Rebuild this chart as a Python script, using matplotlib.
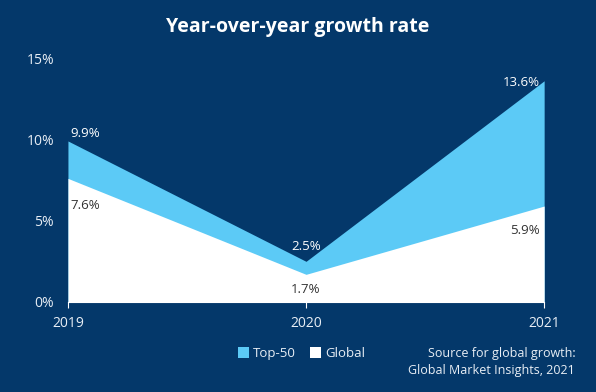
import matplotlib
matplotlib.use("Agg")
import matplotlib.pyplot as plt
from matplotlib.patches import Patch

plt.rcParams['font.family'] = ['Open Sans', 'DejaVu Sans']

years = ["2019", "2020", "2021"]
top50 = [9.9, 2.5, 13.6]
global_growth = [7.6, 1.7, 5.9]
yticks = [0, 5, 10, 15]
ytick_labels = ["0%", "5%", "10%", "15%"]

BG = "#04386a"
BLUE = "#5ccaf6"
WHITE = "#ffffff"
TXT = "#e8eef5"
DARK = "#333333"

fig = plt.figure(figsize=(5.96, 3.92), dpi=100, facecolor=BG)
ax = fig.add_axes([0.114, 0.2296, 0.799, 0.6224])
ax.set_facecolor(BG)

x = list(range(len(years)))
ax.fill_between(x, 0, top50, color=BLUE, linewidth=0)
ax.fill_between(x, 0, global_growth, color=WHITE, linewidth=0)

ax.set_xlim(0, 2)
ax.set_ylim(0, 15)
ax.set_xticks(x)
ax.set_xticklabels(years)
ax.set_yticks(yticks)
ax.set_yticklabels(ytick_labels)
for s in ["top", "right", "left"]:
    ax.spines[s].set_visible(False)
ax.spines["bottom"].set_color(WHITE)
ax.spines["bottom"].set_linewidth(0.8)
ax.tick_params(axis="y", length=0, pad=10, labelsize=10, labelcolor=TXT)
ax.tick_params(axis="x", length=4, color=WHITE, pad=6, labelsize=10, labelcolor=TXT)

# data labels
ax.annotate(f"{top50[0]}%", (0, top50[0]), xytext=(2, 1), textcoords="offset points",
            ha="left", va="bottom", color=WHITE, fontsize=9.5)
ax.annotate(f"{global_growth[0]}%", (0, global_growth[0]), xytext=(2, -15), textcoords="offset points",
            ha="left", va="top", color=DARK, fontsize=9.5)
ax.annotate(f"{top50[1]}%", (1, top50[1]), xytext=(0, 6), textcoords="offset points",
            ha="center", va="bottom", color=WHITE, fontsize=9.5)
ax.annotate(f"{global_growth[1]}%", (1, global_growth[1]), xytext=(0, -6), textcoords="offset points",
            ha="center", va="top", color=DARK, fontsize=9.5)
ax.annotate(f"{top50[2]}%", (2, top50[2]), xytext=(-3, -6), textcoords="offset points",
            ha="right", va="bottom", color=WHITE, fontsize=9.5)
ax.annotate(f"{global_growth[2]}%", (2, global_growth[2]), xytext=(-3, -13), textcoords="offset points",
            ha="right", va="top", color=DARK, fontsize=9.5)

fig.text(0.5, 0.932, "Year-over-year growth rate", ha="center", va="center",
         color=WHITE, fontsize=14, fontweight="bold")

handles = [Patch(facecolor=BLUE, edgecolor="none"), Patch(facecolor=WHITE, edgecolor="none")]
leg = fig.legend(handles, ["Top-50", "Global"], loc="center", bbox_to_anchor=(0.506, 0.098),
                 ncol=2, frameon=False, fontsize=9.5, labelcolor=TXT,
                 handlelength=0.8, handleheight=0.8, handletextpad=0.3, columnspacing=1.1)

fig.text(0.965, 0.098, "Source for global growth:", ha="right", va="center", color=TXT, fontsize=9)
fig.text(0.965, 0.055, "Global Market Insights, 2021", ha="right", va="center", color=TXT, fontsize=9)

fig.savefig("out.png", dpi=100, facecolor=BG)
